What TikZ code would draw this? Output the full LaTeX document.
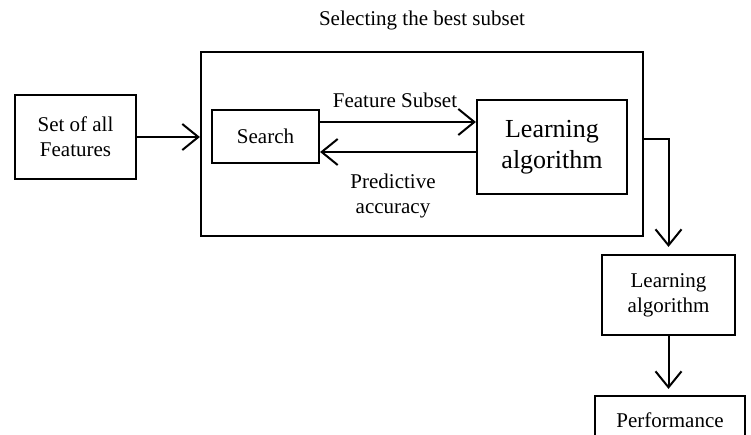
\documentclass[tikz,border=0pt]{standalone}
\usepackage{fontspec}
\setmainfont{Liberation Serif}
\usetikzlibrary{arrows.meta}
\begin{document}
\begin{tikzpicture}[x=1pt,y=-1pt,
  box/.style={draw,line width=2.2pt,rectangle,inner sep=0pt,align=center,font=\fontsize{21}{25}\selectfont},
  lbl/.style={inner sep=0pt,align=center,font=\fontsize{21}{25}\selectfont},
  arr/.style={line width=2pt,-{Straight Barb[length=16pt,width=26pt,line width=2pt]}},
  ln/.style={line width=2pt}]
\clip (0,0) rectangle (751,434);
\node[box,minimum width=121pt,minimum height=84pt] (set) at (75.5,137) {Set of all\\Features};
\node[box,minimum width=442pt,minimum height=184pt] (outer) at (422,144) {};
\node[lbl] (title) at (422,20) {Selecting the best subset};
\node[box,minimum width=107pt,minimum height=53pt] (search) at (265.5,136.5) {Search};
\node[box,minimum width=150pt,minimum height=94pt,font=\fontsize{26}{31}\selectfont] (la) at (552,147) {Learning\\algorithm};
\node[lbl] (fs) at (395,100) {Feature Subset};
\node[lbl] (pa) at (393,196) {Predictive\\accuracy};
\node[box,minimum width=133pt,minimum height=80pt] (la2) at (668.5,295) {Learning\\algorithm};
\node[box,minimum width=150pt,minimum height=64pt] (perf) at (670,428) {};
\node[lbl] (perft) at (670,420) {Performance};
\coordinate (s1) at ([yshift=14.5pt]search.east);
\coordinate (l1) at ([yshift=-5pt]la.west);
\coordinate (o1) at ([yshift=5pt]outer.east);
\draw[arr] (set.east) -- (outer.west |- set.east);
\draw[arr] (s1) -- (la.west |- s1);
\draw[arr] (l1) -- (search.east |- l1);
\draw[arr,shorten >=7pt] (o1) -| (la2.north);
\draw[arr,shorten >=6pt] (la2.south) -- (la2.south |- perf.north);
\end{tikzpicture}
\end{document}
